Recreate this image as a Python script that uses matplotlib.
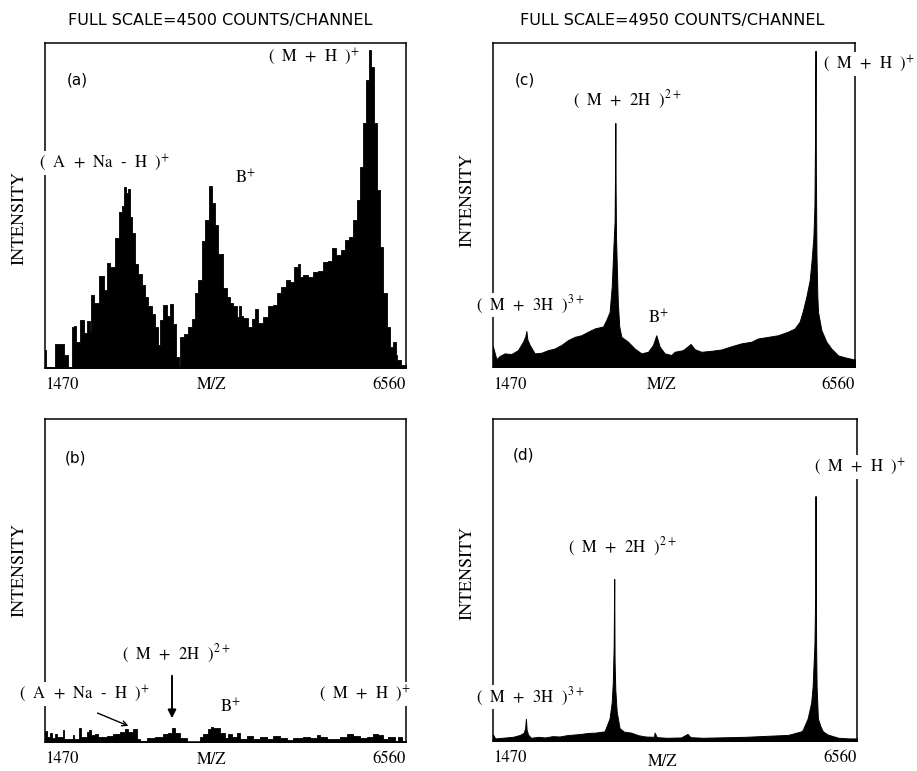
import matplotlib
matplotlib.use("Agg")
import matplotlib.pyplot as plt

plt.rcParams['mathtext.fontset'] = 'stix'

W, H = 917, 771

# ---------------- data (percent of full scale vs m/z) ----------------
mz_a = [1470, 1494, 1719, 1752, 1846, 1855, 1893, 1917, 2011, 2034, 2095, 2105, 2142, 2175,
        2283, 2316, 2363, 2410, 2490, 2528, 2575, 2598, 2631, 2659, 2678, 2716, 2762, 2810,
        2857, 2904, 2951, 2998, 3045, 3078, 3115, 3162, 3209, 3256, 3303, 3341, 3364, 3397,
        3468, 3515, 3562, 3609, 3656, 3703, 3750, 3806, 3844, 3891, 3938, 4008, 4055, 4102,
        4149, 4196, 4220, 4243, 4290, 4361, 4408, 4455, 4478, 4502, 4572, 4643, 4713, 4760,
        4831, 4901, 4948, 5019, 5051, 5089, 5136, 5207, 5277, 5348, 5418, 5489, 5536, 5606,
        5677, 5724, 5794, 5841, 5888, 5935, 5982, 6020, 6053, 6085, 6123, 6170, 6217, 6264,
        6311, 6358, 6405, 6428, 6452, 6522, 6560]
int_a = [5.5, 0.3, 7.4, 4.0, 0.3, 12.6, 13.0, 8.0, 14.8, 10.8, 14.5, 11.5, 22.5, 20.0,
         28.3, 24.0, 32.3, 31.0, 40.0, 48.0, 50.0, 55.7, 54.0, 55.0, 46.5, 41.5, 32.0, 29.0,
         25.5, 22.0, 19.0, 16.5, 12.7, 7.0, 14.8, 19.3, 16.0, 19.6, 13.5, 3.5, 0.3, 9.5,
         10.5, 12.7, 15.0, 23.0, 27.0, 39.0, 45.5, 56.0, 50.7, 44.0, 35.0, 24.5, 22.0, 20.0,
         19.0, 15.8, 19.0, 16.0, 15.3, 12.7, 15.0, 18.3, 14.0, 13.7, 15.8, 19.0, 19.5, 23.0,
         25.0, 27.0, 26.5, 31.1, 32.0, 28.0, 28.5, 28.0, 29.5, 30.0, 32.7, 33.0, 36.8, 34.7,
         36.3, 39.4, 40.4, 45.6, 51.7, 62.0, 75.3, 88.6, 97.8, 92.7, 75.3, 54.8, 37.3, 23.0,
         12.7, 6.6, 8.0, 4.0, 2.5, 1.0, 1.0]

mz_b = [1470, 1503, 1541, 1569, 1611, 1644, 1719, 1738, 1860, 1879, 1954, 1973, 2058, 2095,
        2114, 2175, 2222, 2340, 2434, 2528, 2598, 2645, 2716, 2763, 2810, 2904, 3021, 3139,
        3209, 3256, 3303, 3374, 3468, 3656, 3703, 3773, 3806, 3844, 3938, 4008, 4055, 4102,
        4173, 4220, 4313, 4408, 4502, 4596, 4690, 4784, 4878, 4972, 5113, 5207, 5301, 5348,
        5442, 5630, 5724, 5818, 5912, 6006, 6100, 6170, 6241, 6311, 6405, 6452, 6499, 6560]
int_b = [3.5, 1.6, 2.9, 1.1, 2.6, 1.6, 3.7, 0.8, 2.1, 0.8, 4.2, 1.6, 3.2, 3.7,
         2.1, 2.6, 1.6, 1.8, 2.6, 3.2, 3.9, 3.2, 3.9, 0.8, 0.4, 1.1, 1.6, 2.6,
         2.9, 4.2, 2.9, 1.1, 0.1, 1.6, 2.6, 3.9, 4.5, 4.2, 2.9, 1.1, 2.6, 1.6,
         2.9, 0.8, 1.8, 0.8, 1.6, 0.8, 1.8, 1.1, 0.6, 1.1, 1.6, 1.1, 2.1, 1.6,
         0.8, 1.6, 2.5, 1.8, 1.1, 1.6, 2.6, 2.1, 0.8, 1.4, 0.4, 1.6, 0.4, 0.4]

mz_c = [1470, 1517, 1564, 1634, 1728, 1821, 1892, 1925, 1939, 1953, 1986, 2056, 2150, 2243,
        2337, 2431, 2525, 2618, 2712, 2806, 2900, 3017, 3063, 3110, 3140, 3165, 3180, 3186,
        3190, 3194, 3200, 3212, 3225, 3245, 3275, 3368, 3462, 3556, 3650, 3720, 3766, 3813,
        3884, 3977, 4024, 4141, 4249, 4305, 4399, 4540, 4680, 4821, 4962, 5102, 5196, 5337,
        5477, 5618, 5712, 5782, 5829, 5876, 5923, 5950, 5975, 5990, 5998, 6005, 6010, 6018,
        6030, 6040, 6087, 6157, 6227, 6321, 6415, 6532, 6560]
int_c = [6.3, 2.4, 3.4, 4.2, 4.0, 5.2, 7.8, 9.5, 11.1, 8.5, 6.8, 4.2, 4.4, 5.2,
         5.7, 6.8, 8.3, 9.3, 9.8, 10.9, 11.9, 12.5, 14.5, 17.0, 25.0, 38.0, 45.0, 60.0,
         75.3, 55.0, 40.0, 30.0, 20.0, 12.5, 9.3, 7.8, 5.7, 4.2, 4.7, 6.8, 9.8, 6.3,
         4.2, 3.7, 4.7, 5.2, 7.1, 5.5, 4.7, 5.0, 5.4, 6.4, 7.3, 7.8, 8.8, 9.3,
         9.8, 10.9, 11.9, 14.0, 17.5, 21.7, 26.8, 33.0, 40.0, 50.0, 70.0, 97.6, 60.0, 35.0,
         22.0, 17.0, 11.4, 7.8, 5.7, 3.6, 3.0, 2.4, 2.4]

mz_d = [1470, 1500, 1600, 1750, 1850, 1900, 1920, 1930, 1940, 1960, 2000, 2100, 2200, 2300,
        2400, 2500, 2600, 2700, 2800, 2900, 3030, 3100, 3130, 3145, 3158, 3165, 3170, 3180,
        3200, 3240, 3300, 3400, 3500, 3600, 3720, 3730, 3760, 3900, 4100, 4190, 4230, 4400,
        4600, 4800, 5000, 5200, 5400, 5600, 5780, 5800, 5870, 5920, 5940, 5965, 5975, 5980,
        5988, 5995, 6013, 6050, 6083, 6150, 6300, 6450, 6560]
int_d = [2.0, 0.8, 1.0, 1.3, 1.9, 2.6, 4.0, 6.9, 3.5, 2.0, 1.0, 1.3, 1.1, 1.5,
         1.4, 1.8, 2.0, 2.2, 2.5, 2.6, 3.0, 7.0, 12.0, 18.0, 30.0, 50.3, 25.0, 16.0,
         9.0, 4.0, 2.9, 2.6, 1.8, 1.4, 1.3, 2.6, 1.2, 1.0, 1.1, 2.2, 1.2, 1.0,
         1.1, 1.2, 1.3, 1.5, 1.7, 1.9, 3.0, 3.4, 7.0, 12.0, 17.0, 30.0, 45.0, 76.1,
         30.0, 17.0, 7.0, 4.5, 3.0, 2.0, 1.0, 0.8, 0.8]

mz_range = [1470, 6560]
full_scale = ["FULL SCALE=4500 COUNTS/CHANNEL", "FULL SCALE=4950 COUNTS/CHANNEL"]

# ---------------- layout helpers ----------------
fig = plt.figure(figsize=(W / 100, H / 100), dpi=100)


def add_ax(left, top, right, bottom):
    ax = fig.add_axes([left / W, 1 - bottom / H, (right - left) / W, (bottom - top) / H])
    ax.set_xlim(*mz_range)
    ax.set_ylim(0, 100)
    ax.set_xticks([])
    ax.set_yticks([])
    for s in ax.spines.values():
        s.set_linewidth(1.1)
        s.set_color('black')
    return ax


def ftext(x, y, s, **kw):
    kw.setdefault('ha', 'center')
    kw.setdefault('va', 'center')
    return fig.text(x / W, 1 - y / H, s, **kw)


SERIF = 'STIXGeneral'
SANS = 'DejaVu Sans'
white = dict(facecolor='white', edgecolor='none', pad=1.0)

ax_a = add_ax(45, 43, 406, 368)
ax_b = add_ax(45, 419, 406, 742)
ax_c = add_ax(493, 43, 855, 367)
ax_d = add_ax(493, 419, 857, 741)

ax_a.fill_between(mz_a, int_a, 0, step='mid', color='black', lw=0.6)
ax_b.fill_between(mz_b, int_b, 0, step='post', color='black', lw=0.6)
ax_c.fill_between(mz_c, int_c, 0, color='black', lw=0.7)
ax_d.fill_between(mz_d, int_d, 0, color='black', lw=0.7)

# titles
ftext(220, 20, full_scale[0], family=SANS, fontsize=11.5)
ftext(672, 20, full_scale[1], family=SANS, fontsize=11.5)

# axis texts
for (l, r, yb, ymz, xmz) in [(45, 406, 385, 385, 212), (45, 406, 759, 760, 212),
                             (493, 855, 385, 385, 662), (493, 857, 758, 762, 663)]:
    ftext(l, yb, str(mz_range[0]), ha='left', family=SERIF, fontsize=12)
    ftext(r, yb, str(mz_range[1]), ha='right', family=SERIF, fontsize=12)
    ftext(xmz, ymz, 'M/Z', family=SERIF, fontsize=12)

for (x, y) in [(20, 218), (468, 200), (20, 570), (468, 573)]:
    ftext(x, y, 'INTENSITY', rotation=90, family=SERIF, fontsize=13)

# panel letters
ftext(77, 80, '(a)', family=SANS, fontsize=11)
ftext(76, 458, '(b)', family=SANS, fontsize=11)
ftext(525, 80, '(c)', family=SANS, fontsize=11)
ftext(524, 455, '(d)', family=SANS, fontsize=11)

LF = 12
mh = r'(  M  +  H  )$^{+}$'
m2h = r'(  M  +  2H  )$^{2\,+}$'
m3h = r'(  M  +  3H  )$^{3\,+}$'
ana = r'(  A  +  Na  -  H  )$^{+}$'

# panel a
ftext(104, 163, ana, family=SERIF, fontsize=LF, bbox=white)
ftext(245, 178, r'B$^{+}$', family=SERIF, fontsize=LF)
ftext(314, 57, mh, family=SERIF, fontsize=LF)
# panel c
ftext(628, 100, m2h, family=SERIF, fontsize=LF)
ftext(869, 64, mh, family=SERIF, fontsize=LF, bbox=white)
ftext(531, 305, m3h, family=SERIF, fontsize=LF, bbox=white)
ftext(658, 318, r'B$^{+}$', family=SERIF, fontsize=LF)
# panel b
ftext(177, 654, m2h, family=SERIF, fontsize=LF)
ftext(84, 694, ana, family=SERIF, fontsize=LF, bbox=white)
ftext(230, 707, r'B$^{+}$', family=SERIF, fontsize=LF)
ftext(365, 694, mh, family=SERIF, fontsize=LF, bbox=white)
ax_b.annotate('', xy=(172 / W, 1 - 721 / H), xytext=(172 / W, 1 - 673 / H),
              xycoords='figure fraction', textcoords='figure fraction',
              arrowprops=dict(arrowstyle='-|>', color='black', lw=1.4, mutation_scale=12))
ax_b.annotate('', xy=(131 / W, 1 - 727 / H), xytext=(95 / W, 1 - 712 / H),
              xycoords='figure fraction', textcoords='figure fraction',
              arrowprops=dict(arrowstyle='->', color='black', lw=1.0, mutation_scale=9))
# panel d
ftext(860, 467, mh, family=SERIF, fontsize=LF, bbox=white)
ftext(623, 547, m2h, family=SERIF, fontsize=LF)
ftext(531, 697, m3h, family=SERIF, fontsize=LF, bbox=white)

fig.savefig('out.png', dpi=100, facecolor='white')
